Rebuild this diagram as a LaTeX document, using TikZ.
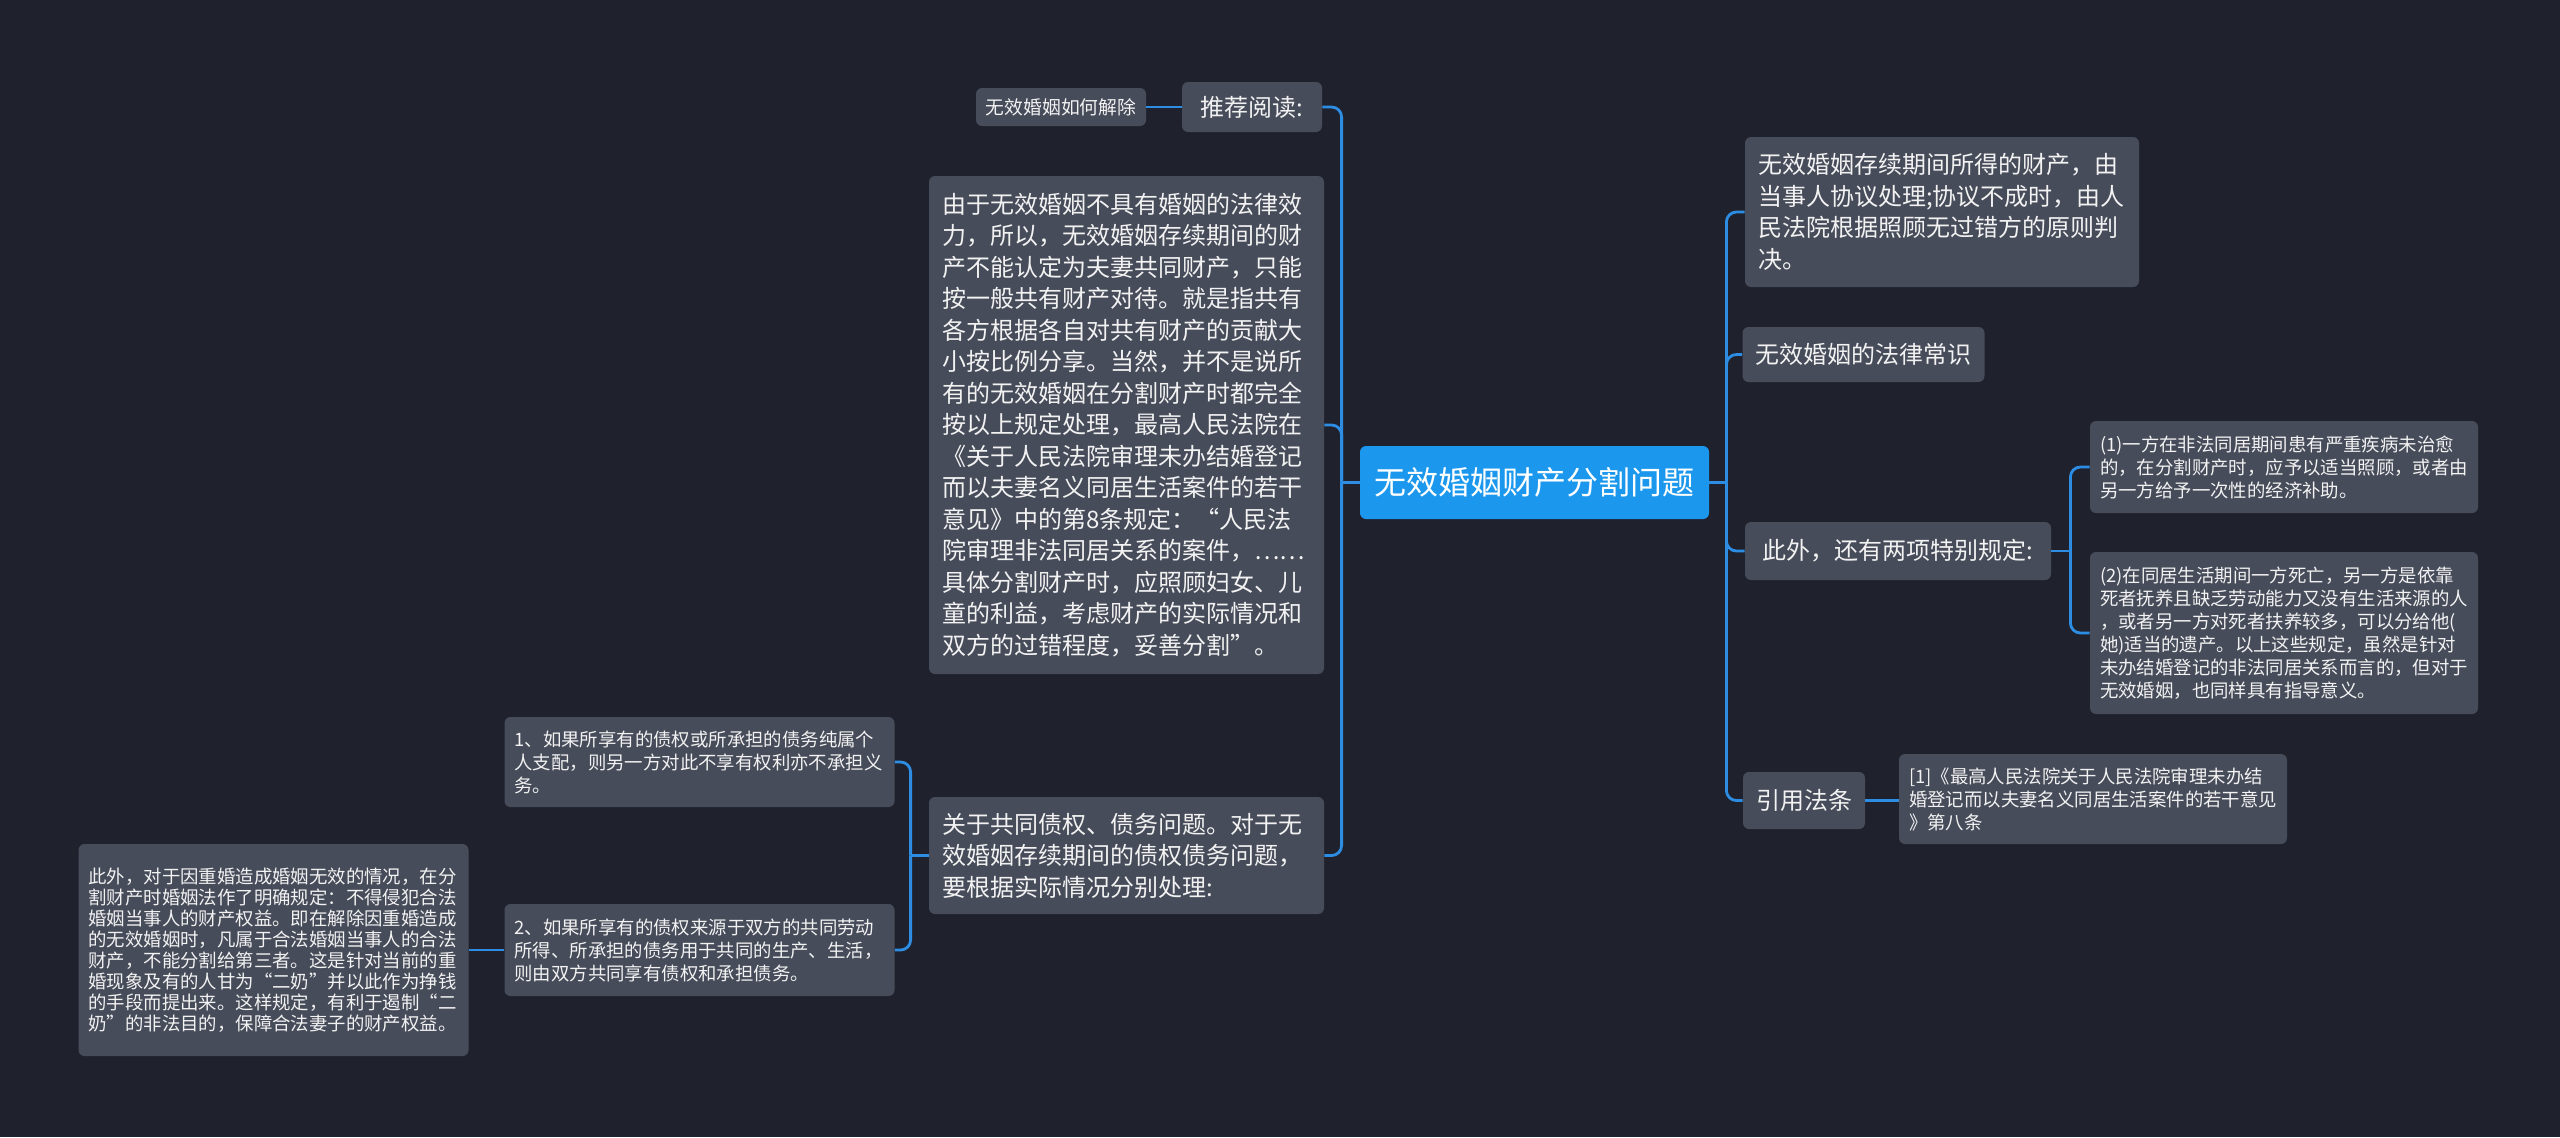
\documentclass[tikz,border=0pt]{standalone}
\usepackage{fontspec}
\setmainfont{Noto Sans CJK SC}
\usetikzlibrary{calc}
\definecolor{bg}{HTML}{1F222D}
\definecolor{boxc}{HTML}{474C5A}
\definecolor{rootc}{HTML}{1B98EE}
\definecolor{linec}{HTML}{2C8DE3}
\definecolor{txt}{HTML}{F2F2F2}
\begin{document}
\begin{tikzpicture}[x=0.5pt,y=-0.5pt,
  box/.style={draw=none, fill=boxc, rounded corners=3pt, text=txt, inner ysep=0pt, inner xsep=6.5pt},
  lvA/.style={box, font=\fontsize{12}{15.75}\selectfont},
  lvAp/.style={lvA, align=left, text width=184.5pt},
  lvB/.style={box, font=\fontsize{9.2}{11.5}\selectfont, inner xsep=5pt, align=left, text width=185pt},
  conn/.style={draw=linec, line width=1.4pt, rounded corners=5pt}]
\fill[bg] (0,0) rectangle (2560,1137);
\useasboundingbox (0,0) rectangle (2560,1137);

% root
\node[box, fill=rootc, text=white, font=\fontsize{16}{19}\selectfont, inner xsep=0pt, minimum width=174.5pt, minimum height=36.5pt] (root) at (1534.5,482.5) {无效婚姻财产分割问题};

% left side
\node[lvA, minimum width=70pt, minimum height=25pt] (rec) at (1252,107) {推荐阅读:};
\node[box, font=\fontsize{9.4}{11}\selectfont, inner xsep=0pt, minimum width=85pt, minimum height=19pt] (rec1) at (1061,107) {无效婚姻如何解除};
\node[lvAp, minimum height=249pt] (para) at (1126.5,425) {由于无效婚姻不具有婚姻的法律效\\力，所以，无效婚姻存续期间的财\\产不能认定为夫妻共同财产，只能\\按一般共有财产对待。就是指共有\\各方根据各自对共有财产的贡献大\\小按比例分享。当然，并不是说所\\有的无效婚姻在分割财产时都完全\\按以上规定处理，最高人民法院在\\《关于人民法院审理未办结婚登记\\而以夫妻名义同居生活案件的若干\\意见》中的第8条规定：“人民法\\院审理非法同居关系的案件，……\\具体分割财产时，应照顾妇女、儿\\童的利益，考虑财产的实际情况和\\双方的过错程度，妥善分割”。};
\node[lvAp, minimum height=58.5pt] (debt) at (1126.5,855.5) {关于共同债权、债务问题。对于无\\效婚姻存续期间的债权债务问题，\\要根据实际情况分别处理:};
\node[lvB, minimum height=45pt] (d1) at (699.5,762) {1、如果所享有的债权或所承担的债务纯属个\\人支配，则另一方对此不享有权利亦不承担义\\务。};
\node[lvB, minimum height=46pt] (d2) at (699.5,950) {2、如果所享有的债权来源于双方的共同劳动\\所得、所承担的债务用于共同的生产、生活，\\则由双方共同享有债权和承担债务。};
\node[lvB, font=\fontsize{9.2}{10.5}\selectfont, minimum height=106pt] (d2a) at (273.5,950) {此外，对于因重婚造成婚姻无效的情况，在分\\割财产时婚姻法作了明确规定：不得侵犯合法\\婚姻当事人的财产权益。即在解除因重婚造成\\的无效婚姻时，凡属于合法婚姻当事人的合法\\财产，不能分割给第三者。这是针对当前的重\\婚现象及有的人甘为“二奶”并以此作为挣钱\\的手段而提出来。这样规定，有利于遏制“二\\奶”的非法目的，保障合法妻子的财产权益。};

% right side
\node[lvAp, text width=184pt, minimum height=75pt] (r1) at (1942,212) {无效婚姻存续期间所得的财产，由\\当事人协议处理;协议不成时，由人\\民法院根据照顾无过错方的原则判\\决。};
\node[lvA, minimum width=118.5pt, minimum height=27.5pt] (r2) at (1863.5,354.5) {无效婚姻的法律常识};
\node[lvA, minimum width=153pt, minimum height=29pt] (r3) at (1898,551) {此外，还有两项特别规定:};
\node[lvB, text width=184pt, minimum height=46pt] (r3a) at (2284,467) {(1)一方在非法同居期间患有严重疾病未治愈\\的，在分割财产时，应予以适当照顾，或者由\\另一方给予一次性的经济补助。};
\node[lvB, text width=184pt, minimum height=81pt] (r3b) at (2284,633) {(2)在同居生活期间一方死亡，另一方是依靠\\死者抚养且缺乏劳动能力又没有生活来源的人\\，或者另一方对死者扶养较多，可以分给他(\\她)适当的遗产。以上这些规定，虽然是针对\\未办结婚登记的非法同居关系而言的，但对于\\无效婚姻，也同样具有指导意义。};
\node[lvA, minimum width=59pt, minimum height=28.5pt] (r4) at (1804,800.5) {引用法条};
\node[lvB, text width=184pt, minimum height=45pt] (r4a) at (2093,799) {[1]《最高人民法院关于人民法院审理未办结\\婚登记而以夫妻名义同居生活案件的若干意见\\》第八条};

% connectors
\draw[conn] (root.east) -- ++(17,0) coordinate (jr);
\draw[conn] (jr) |- (r1.west);
\draw[conn] (jr) |- (r2.west);
\draw[conn] (jr) |- (r3.west);
\draw[conn] (jr) |- (r4.west);
\draw[conn] (root.west) -- ++(-18,0) coordinate (jl);
\draw[conn] (jl) |- (rec.east);
\draw[conn] (jl) |- (para.east);
\draw[conn] (jl) |- (debt.east);
\draw[conn] (rec.west) -- (rec1.east);
\draw[conn] (debt.west) -- ++(-18,0) coordinate (jd);
\draw[conn] (jd) |- (d1.east);
\draw[conn] (jd) |- (d2.east);
\draw[conn] (d2.west) -- (d2a.east);
\draw[conn] (r3.east) -- ++(19,0) coordinate (j3);
\draw[conn] (j3) |- (r3a.west);
\draw[conn] (j3) |- (r3b.west);
\draw[conn] (r4.east) -- (r4a.west |- r4.east);
\end{tikzpicture}
\end{document}
